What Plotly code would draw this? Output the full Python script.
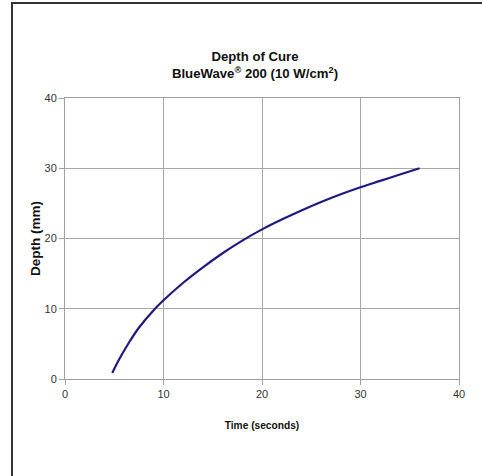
import plotly.graph_objects as go

time_s = [4.8, 5.5, 6.5, 7.5, 9, 10, 12, 14, 16, 18, 20, 22, 24, 26, 28, 30, 32, 34, 36]
depth_mm = [0.85, 2.8, 5.2, 7.3, 9.8, 11.2, 13.7, 15.9, 17.9, 19.7, 21.3, 22.7, 24.0, 25.2, 26.3, 27.3, 28.2, 29.1, 30.0]

x_ticks = [0, 10, 20, 30, 40]
y_ticks = [0, 10, 20, 30, 40]

W, H = 482, 476
L, R, T, B = 65, 23, 98, 97
pw, ph = W - L - R, H - T - B

def px(x):
    return (x - L) / pw

def py(y):
    return (H - B - y) / ph

fig = go.Figure()
fig.add_trace(go.Scatter(x=time_s, y=depth_mm, mode="lines",
                         line=dict(color="#1f1a80", width=2.2, shape="spline", smoothing=1.0),
                         hoverinfo="skip", showlegend=False))

axis_common = dict(showgrid=True, gridcolor="#a8a8a8", gridwidth=1,
                   showline=True, linecolor="#a0a0a0", linewidth=1, mirror=True,
                   ticks="outside", ticklen=5, tickcolor="#a0a0a0",
                   tickfont=dict(family="Liberation Sans, Arial", size=11, color="#333333"),
                   zeroline=False)

fig.update_xaxes(range=[0, 40], tickvals=x_ticks,
                 title=dict(text="<b>Time (seconds)</b>", standoff=22,
                            font=dict(family="Liberation Sans, Arial", size=10.2, color="#111111")),
                 **axis_common)
fig.update_yaxes(range=[0, 40], tickvals=y_ticks,
                 title=dict(text="<b>Depth (mm)</b>", standoff=0,
                            font=dict(family="Liberation Sans, Arial", size=13.5, color="#111111")),
                 **axis_common)

fig.update_layout(
    width=W, height=H,
    margin=dict(l=L, r=R, t=T, b=B),
    paper_bgcolor="white", plot_bgcolor="white",
    title=dict(text="<b>Depth of Cure<br>BlueWave<sup>®</sup> 200 (10 W/cm<sup>2</sup>)</b>",
               x=255 / W, xanchor="center", y=1 - 61 / H, yanchor="middle",
               font=dict(family="Liberation Sans, Arial", size=13.2, color="#111111")),
    shapes=[dict(type="rect", xref="paper", yref="paper",
                 x0=px(12), x1=px(490), y0=py(490), y1=py(3),
                 line=dict(color="#333333", width=2), fillcolor="rgba(0,0,0,0)")],
)

fig.write_html("out.html", config={"displayModeBar": False},
               post_script="document.body.style.margin='0px';")
